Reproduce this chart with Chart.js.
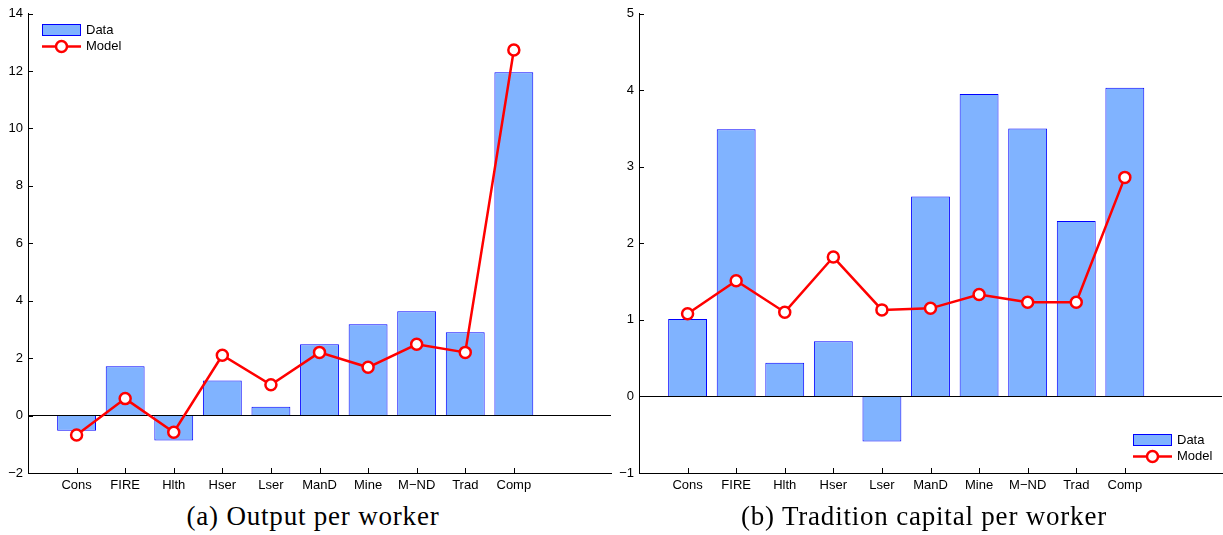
<!DOCTYPE html>
<html>
<head>
<meta charset="utf-8">
<script src="https://cdn.jsdelivr.net/npm/chart.js@4.4.0/dist/chart.umd.min.js"></script>
<style>
  html, body { margin: 0; padding: 0; background: #fff; }
  #wrap { position: relative; width: 1223px; height: 535px; overflow: hidden; }
  .box { position: absolute; top: 0; width: 619px; height: 500px; }
  .cap { position: absolute; top: 501px; width: 520px; line-height: 30px; text-align: center;
         font-family: "Liberation Serif", serif; font-size: 27px; letter-spacing: 0.8px; color: #000; }
</style>
</head>
<body>
<div id="wrap">
  <div class="box" style="left:0"><canvas id="outputChart"></canvas></div>
  <div class="box" style="left:611px"><canvas id="tradChart"></canvas></div>
  <div class="cap" style="left:53px">(a) Output per worker</div>
  <div class="cap" style="left:664px">(b) Tradition capital per worker</div>
</div>
<script>
const sectors = ['Cons', 'FIRE', 'Hlth', 'Hser', 'Lser', 'ManD', 'Mine', 'M\u2212ND', 'Trad', 'Comp'];

// (a) output per worker
const outputData  = [-0.53, 1.72, -0.87, 1.22, 0.31, 2.48, 3.18, 3.63, 2.90, 11.95];
const outputModel = [-0.68, 0.59, -0.58, 2.10, 1.07, 2.20, 1.68, 2.48, 2.20, 12.73];
const outputTicks = [-2, 0, 2, 4, 6, 8, 10, 12, 14];

// (b) tradition capital per worker
const tradData  = [1.01, 3.49, 0.44, 0.72, -0.59, 2.61, 3.95, 3.50, 2.29, 4.03];
const tradModel = [1.08, 1.51, 1.10, 1.82, 1.13, 1.15, 1.33, 1.23, 1.23, 2.86];
const tradTicks = [-1, 0, 1, 2, 3, 4, 5];

const barFill = '#80b3ff';
const barEdge = '#0000ff';
const lineRed = '#ff0000';
const sans = '"Liberation Sans", Arial, sans-serif';

// matlab style: ticks point into the plot, legend sits inside the axes
const matlabBits = {
  id: 'matlabBits',
  afterDraw(chart, args, opts) {
    const {ctx, chartArea: a, scales: {x, y}} = chart;
    ctx.save();
    ctx.strokeStyle = '#000';
    ctx.lineWidth = 1;
    ctx.beginPath();
    x.ticks.filter(t => t.label).forEach(t => {
      const px = Math.round(x.getPixelForValue(t.value)) + 0.5;
      ctx.moveTo(px, a.bottom);
      ctx.lineTo(px, a.bottom - 5);
    });
    y.ticks.forEach(t => {
      const py = Math.round(y.getPixelForValue(t.value)) + 0.5;
      ctx.moveTo(a.left, py);
      ctx.lineTo(a.left + 5, py);
    });
    ctx.stroke();

    const pos = opts.at(a);
    const lx = pos.x, ly = pos.y;
    const ds = chart.data.datasets;
    ctx.fillStyle = barFill;
    ctx.fillRect(lx, ly, 39, 12);
    ctx.strokeStyle = barEdge;
    ctx.strokeRect(lx + 0.5, ly + 0.5, 38, 11);
    ctx.font = '13px ' + sans;
    ctx.fillStyle = '#000';
    ctx.textBaseline = 'middle';
    ctx.fillText(ds[0].label, lx + 44, ly + 6);

    const my = ly + 6 + 16.5;
    ctx.strokeStyle = lineRed;
    ctx.lineWidth = 2.5;
    ctx.beginPath();
    ctx.moveTo(lx, my);
    ctx.lineTo(lx + 39, my);
    ctx.stroke();
    ctx.beginPath();
    ctx.arc(lx + 19.5, my, 5.5, 0, Math.PI * 2);
    ctx.fillStyle = '#fff';
    ctx.fill();
    ctx.stroke();
    ctx.fillStyle = '#000';
    ctx.fillText(ds[1].label, lx + 44, my);
    ctx.restore();
  }
};

function makeChart(id, bars, model, yTicks, legendAt) {
  return new Chart(document.getElementById(id), {
    type: 'bar',
    data: {
      datasets: [{
        label: 'Data',
        data: bars.map((v, i) => ({x: i + 1, y: v})),
        backgroundColor: barFill,
        borderColor: barEdge,
        borderWidth: 1,
        barPercentage: 0.8,
        categoryPercentage: 1.0,
        order: 2
      }, {
        type: 'line',
        label: 'Model',
        data: model.map((v, i) => ({x: i + 1, y: v})),
        borderColor: lineRed,
        borderWidth: 2.5,
        pointRadius: 5.5,
        pointHoverRadius: 5.5,
        pointBorderWidth: 2.5,
        pointBackgroundColor: '#fff',
        pointBorderColor: lineRed,
        tension: 0,
        order: 1
      }]
    },
    options: {
      responsive: true,
      maintainAspectRatio: false,
      animation: false,
      layout: {padding: {top: 13.5, right: 3, left: 0, bottom: 0}},
      plugins: {
        legend: {display: false},
        tooltip: {enabled: false},
        matlabBits: {at: legendAt}
      },
      scales: {
        x: {
          type: 'linear',
          min: 0,
          max: 12,
          offset: false,
          grid: {display: false, drawTicks: false},
          border: {display: true, color: '#000', width: 1},
          // one slot per unit, sectors sit on 1..10, 0/11/12 stay blank
          afterBuildTicks: s => {
            s.ticks = [];
            for (let v = 0; v <= 12; v++) s.ticks.push({value: v});
          },
          afterFit: s => { s.height = 27; },
          ticks: {
            autoSkip: false,
            maxRotation: 0,
            padding: 5,
            color: '#000',
            font: {family: sans, size: 13},
            callback: v => sectors[v - 1] || ''
          }
        },
        y: {
          min: yTicks[0],
          max: yTicks[yTicks.length - 1],
          grid: {
            drawTicks: false,
            color: c => (c.tick && c.tick.value === 0 ? '#000' : 'rgba(0,0,0,0)'),
            lineWidth: 1
          },
          border: {display: true, color: '#000', width: 1},
          afterBuildTicks: s => { s.ticks = yTicks.map(v => ({value: v})); },
          afterFit: s => { s.width = 28; },
          ticks: {
            padding: 5,
            color: '#000',
            font: {family: sans, size: 13},
            callback: v => (v < 0 ? '\u2212' + Math.abs(v) : String(v))
          }
        }
      }
    },
    plugins: [matlabBits]
  });
}

makeChart('outputChart', outputData, outputModel, outputTicks, a => ({x: a.left + 14, y: a.top + 10.5}));
makeChart('tradChart', tradData, tradModel, tradTicks, a => ({x: a.right - 89, y: a.bottom - 39}));
</script>
</body>
</html>
